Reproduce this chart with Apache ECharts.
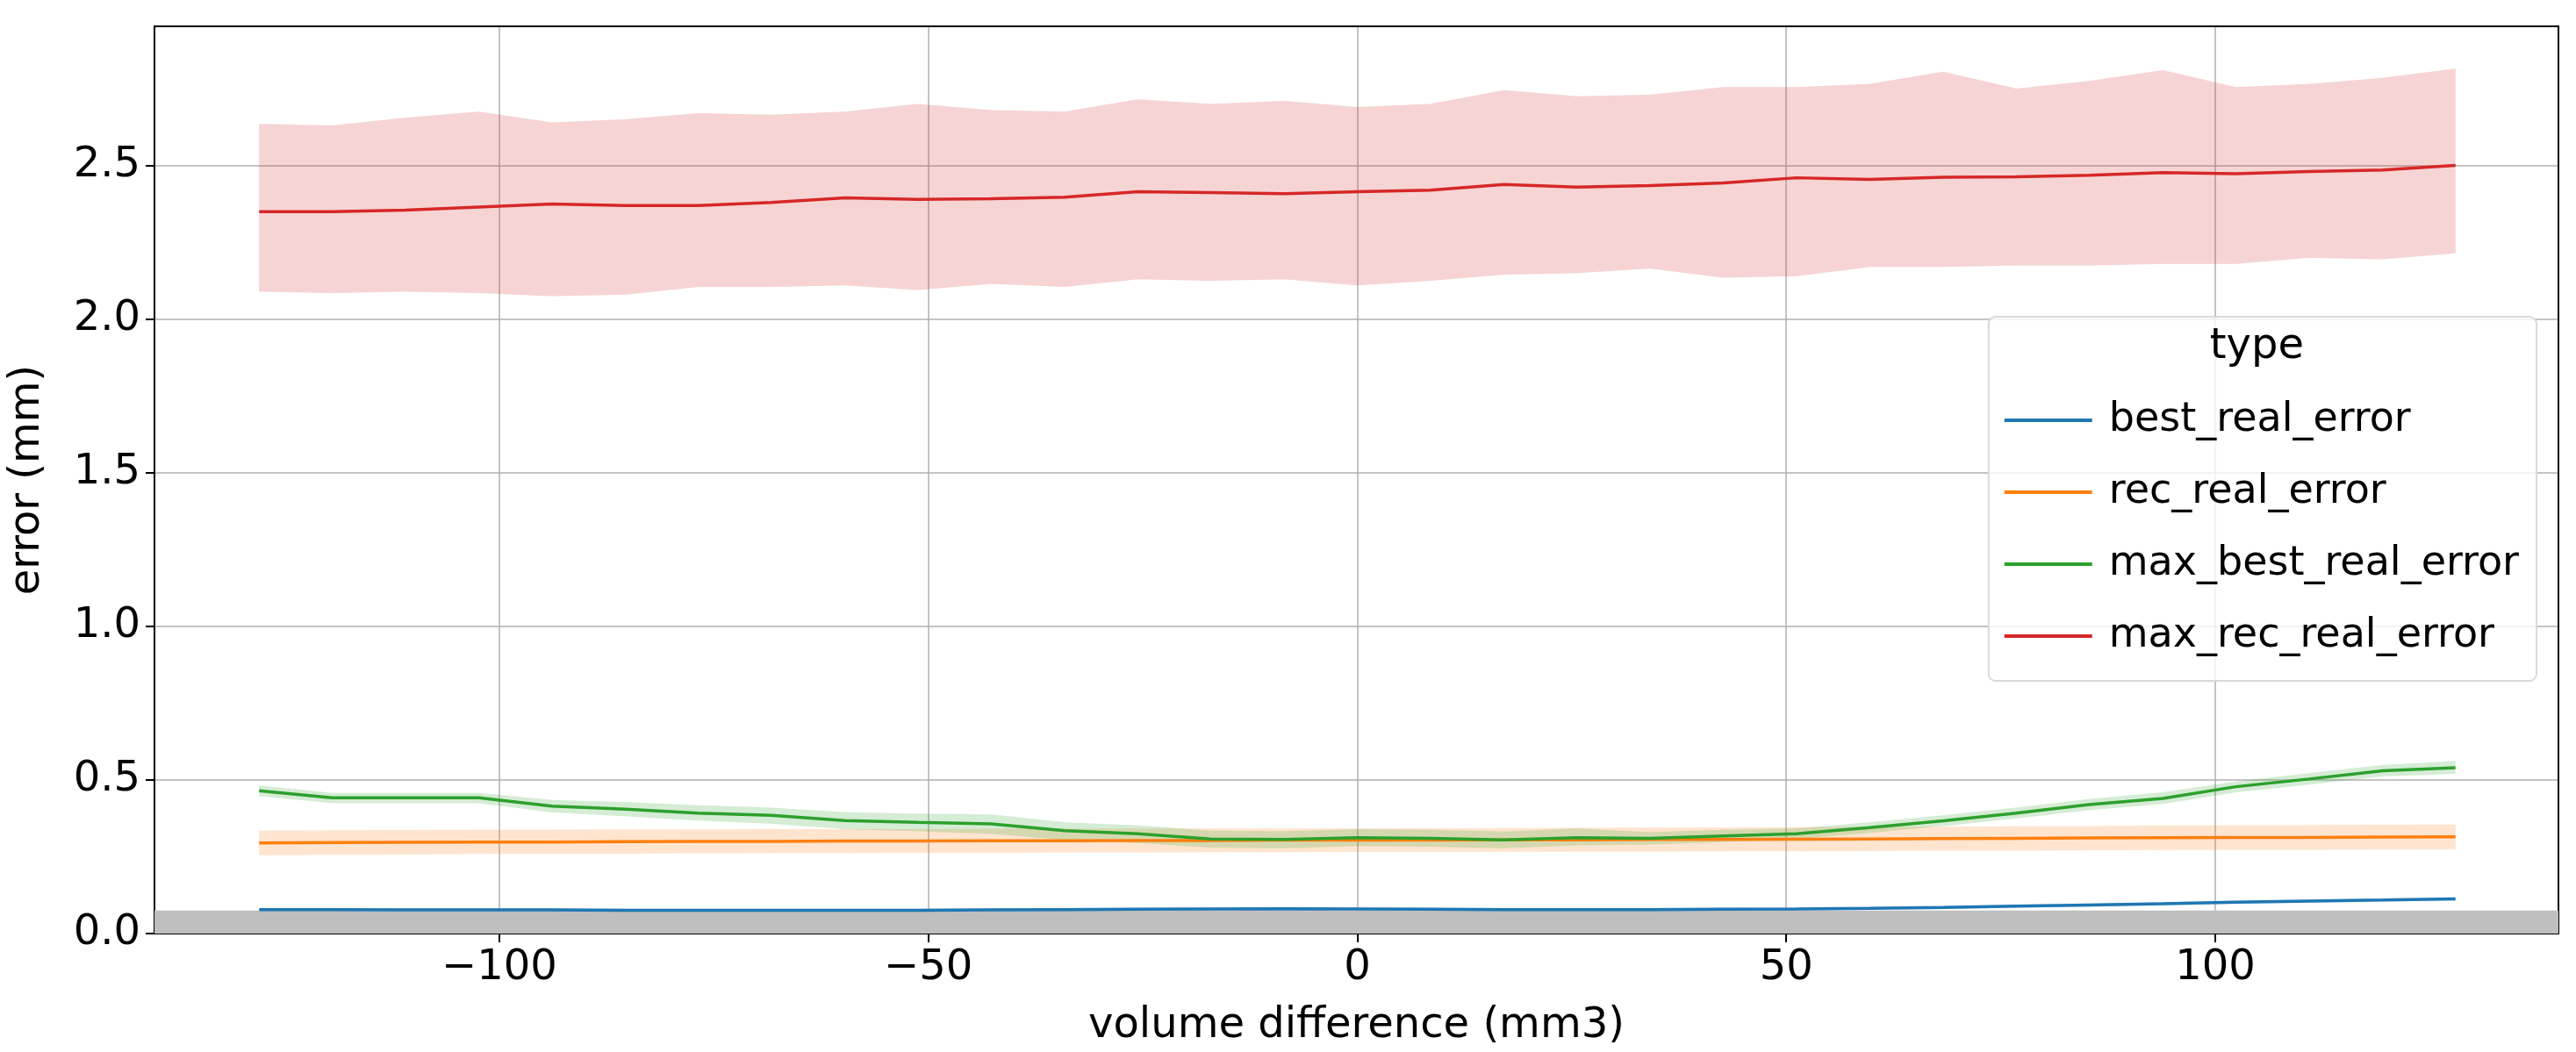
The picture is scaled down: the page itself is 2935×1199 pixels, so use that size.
<!DOCTYPE html>
<html>
<head>
<meta charset="utf-8">
<script src="https://cdn.jsdelivr.net/npm/echarts@6/dist/echarts.min.js"></script>
<style>html,body{margin:0;padding:0;background:#fff}#chart{width:2935px;height:1199px}</style>
</head>
<body>
<div id="chart"></div>
<script>
const volumeDiff = [-128, -119.5, -111, -102.4, -93.9, -85.3, -76.8, -68.3, -59.7, -51.2, -42.7, -34.1, -25.6, -17.1, -8.5, 0,
  8.5, 17.1, 25.6, 34.1, 42.7, 51.2, 59.7, 68.3, 76.8, 85.3, 93.9, 102.4, 110.9, 119.5, 128];

const bestMean = [0.078, 0.078, 0.077, 0.077, 0.077, 0.076, 0.076, 0.076, 0.076, 0.076, 0.077, 0.078, 0.079, 0.080, 0.081, 0.080,
  0.079, 0.078, 0.078, 0.078, 0.079, 0.080, 0.082, 0.085, 0.089, 0.093, 0.097, 0.102, 0.106, 0.109, 0.113];
const bestLow = [0.073, 0.073, 0.072, 0.072, 0.072, 0.071, 0.071, 0.071, 0.071, 0.071, 0.072, 0.073, 0.074, 0.075, 0.076, 0.075,
  0.074, 0.073, 0.073, 0.073, 0.074, 0.075, 0.077, 0.080, 0.084, 0.088, 0.092, 0.097, 0.101, 0.104, 0.108];
const bestHigh = [0.083, 0.083, 0.082, 0.082, 0.082, 0.081, 0.081, 0.081, 0.081, 0.081, 0.082, 0.083, 0.084, 0.085, 0.086, 0.085,
  0.084, 0.083, 0.083, 0.083, 0.084, 0.085, 0.087, 0.090, 0.094, 0.098, 0.102, 0.107, 0.111, 0.114, 0.118];

const recMean = [0.295, 0.296, 0.297, 0.298, 0.298, 0.299, 0.300, 0.300, 0.301, 0.301, 0.302, 0.302, 0.303, 0.303, 0.304, 0.304,
  0.304, 0.305, 0.305, 0.306, 0.306, 0.307, 0.308, 0.309, 0.310, 0.311, 0.312, 0.313, 0.313, 0.314, 0.315];
const recLow = [0.255, 0.257, 0.258, 0.259, 0.260, 0.260, 0.261, 0.262, 0.262, 0.263, 0.263, 0.264, 0.264, 0.265, 0.265, 0.266,
  0.266, 0.266, 0.267, 0.267, 0.268, 0.268, 0.269, 0.270, 0.270, 0.271, 0.272, 0.273, 0.273, 0.274, 0.275];
const recHigh = [0.335, 0.336, 0.337, 0.338, 0.338, 0.339, 0.339, 0.340, 0.340, 0.340, 0.341, 0.341, 0.341, 0.342, 0.342, 0.342,
  0.343, 0.343, 0.344, 0.345, 0.345, 0.346, 0.347, 0.348, 0.349, 0.350, 0.351, 0.352, 0.353, 0.354, 0.355];

const maxBestMean = [0.465, 0.442, 0.442, 0.442, 0.415, 0.405, 0.392, 0.385, 0.368, 0.362, 0.357, 0.335, 0.325, 0.308, 0.306, 0.312,
  0.310, 0.305, 0.312, 0.310, 0.318, 0.325, 0.345, 0.367, 0.392, 0.420, 0.440, 0.478, 0.503, 0.530, 0.540];
const maxBestLow = [0.448, 0.425, 0.425, 0.425, 0.395, 0.382, 0.368, 0.358, 0.340, 0.333, 0.325, 0.305, 0.295, 0.280, 0.278, 0.285,
  0.283, 0.278, 0.287, 0.290, 0.298, 0.308, 0.328, 0.350, 0.375, 0.402, 0.422, 0.460, 0.485, 0.512, 0.520];
const maxBestHigh = [0.482, 0.458, 0.458, 0.458, 0.435, 0.428, 0.418, 0.410, 0.395, 0.390, 0.388, 0.362, 0.352, 0.335, 0.333, 0.340,
  0.338, 0.332, 0.342, 0.330, 0.338, 0.342, 0.362, 0.385, 0.410, 0.438, 0.460, 0.495, 0.522, 0.548, 0.562];

const maxRecMean = [2.350, 2.350, 2.355, 2.365, 2.375, 2.370, 2.370, 2.380, 2.395, 2.390, 2.392, 2.397, 2.415, 2.412, 2.408, 2.415,
  2.420, 2.438, 2.430, 2.435, 2.443, 2.460, 2.455, 2.462, 2.463, 2.468, 2.477, 2.473, 2.480, 2.485, 2.500];
const maxRecLow = [2.090, 2.085, 2.090, 2.085, 2.075, 2.080, 2.105, 2.105, 2.110, 2.095, 2.115, 2.105, 2.130, 2.125, 2.130, 2.110,
  2.125, 2.145, 2.150, 2.165, 2.135, 2.140, 2.170, 2.170, 2.175, 2.175, 2.180, 2.180, 2.200, 2.195, 2.215];
const maxRecHigh = [2.635, 2.630, 2.655, 2.675, 2.640, 2.650, 2.670, 2.665, 2.675, 2.700, 2.680, 2.675, 2.715, 2.700, 2.710, 2.690,
  2.700, 2.745, 2.725, 2.730, 2.755, 2.755, 2.765, 2.805, 2.750, 2.775, 2.810, 2.755, 2.765, 2.785, 2.815];

const xTicks = [-100, -50, 0, 50, 100];
const yTicks = [0, 0.5, 1.0, 1.5, 2.0, 2.5];
const names = ["best_real_error", "rec_real_error", "max_best_real_error", "max_rec_real_error"];
const colors = ["#1f77b4", "#ff7f0e", "#2ca02c", "#d62728"];

const pairs = (ys) => volumeDiff.map((x, i) => [x, ys[i]]);

// confidence band as one polygon, points placed through the axis scales
const bandSeries = (low, high, color) => ({
  type: "custom", silent: true, z: 1,
  data: [[volumeDiff[0], low[0]]],
  renderItem: (params, api) => {
    const top = volumeDiff.map((x, i) => api.coord([x, high[i]]));
    const bottom = volumeDiff.map((x, i) => api.coord([x, low[i]])).reverse();
    return {
      type: "polygon",
      shape: { points: top.concat(bottom) },
      style: { fill: color, opacity: 0.2, stroke: color, lineWidth: 1, strokeOpacity: 0.1 },
    };
  },
});

const lineSeries = (name, ys, color) => ({
  name: name, type: "line", data: pairs(ys), symbol: "none", color: color,
  lineStyle: { width: 3.5, color: color }, z: 3,
});

const fontFamily = "DejaVu Sans";
const chart = echarts.init(document.getElementById("chart"));

chart.setOption({
  animation: false,
  textStyle: { fontFamily: fontFamily },
  grid: { left: 175, right: 20, top: 30, bottom: 127 },
  xAxis: [
    {
      type: "value", min: -140.2, max: 140,
      name: "volume difference (mm3)", nameLocation: "middle", nameGap: 82,
      nameTextStyle: { fontSize: 48, color: "#000" },
      axisLine: { show: true, onZero: false, lineStyle: { color: "#000", width: 2 } },
      axisTick: { show: true, customValues: xTicks, length: 10, lineStyle: { color: "#000", width: 2 } },
      axisLabel: { customValues: xTicks, fontSize: 48, color: "#000", margin: 16,
        formatter: v => String(v).replace("-", "\u2212") },
      splitLine: { show: true, lineStyle: { color: "#b0b0b0", width: 1.5 } },
    },
    {
      type: "value", position: "top", min: -140.2, max: 140,
      axisLine: { show: true, onZero: false, lineStyle: { color: "#000", width: 2 } },
      axisTick: { show: false }, axisLabel: { show: false }, splitLine: { show: false },
    },
  ],
  yAxis: [
    {
      type: "value", min: 0, max: 2.953,
      name: "error (mm)", nameLocation: "middle", nameGap: 120,
      nameTextStyle: { fontSize: 48, color: "#000" },
      axisLine: { show: true, onZero: false, lineStyle: { color: "#000", width: 2 } },
      axisTick: { show: true, customValues: yTicks, length: 10, lineStyle: { color: "#000", width: 2 } },
      axisLabel: { customValues: yTicks, fontSize: 48, color: "#000", margin: 16, formatter: v => v.toFixed(1) },
      splitLine: { show: true, lineStyle: { color: "#b0b0b0", width: 1.5 } },
    },
    {
      type: "value", position: "right", min: 0, max: 2.953,
      axisLine: { show: true, onZero: false, lineStyle: { color: "#000", width: 2 } },
      axisTick: { show: false }, axisLabel: { show: false }, splitLine: { show: false },
    },
  ],
  legend: {
    data: names.map((n, i) => ({ name: n, itemStyle: { color: colors[i] } })),
    orient: "vertical", right: 45, top: 361,
    padding: [95, 20, 28, 18],
    itemGap: 36, itemWidth: 100, itemHeight: 4,
    icon: "rect",
    textStyle: { fontSize: 46, color: "#000", padding: [0, 0, 0, 14] },
    backgroundColor: "rgba(255,255,255,0.8)",
    borderColor: "#d9d9d9", borderWidth: 2, borderRadius: 8,
  },
  graphic: [
    { type: "text", right: 310, top: 372, z: 100,
      style: { text: "type", fontSize: 48, fill: "#000", fontFamily: fontFamily } },
  ],
  series: [
    {
      type: "line", data: [], silent: true,
      markArea: { silent: true, itemStyle: { color: "#bfbfbf", opacity: 1 },
        data: [[{ yAxis: 0, xAxis: -140.2 }, { yAxis: 0.075, xAxis: 140 }]] },
      z: 0,
    },
    bandSeries(bestLow, bestHigh, colors[0]),
    bandSeries(recLow, recHigh, colors[1]),
    bandSeries(maxBestLow, maxBestHigh, colors[2]),
    bandSeries(maxRecLow, maxRecHigh, colors[3]),
    lineSeries(names[0], bestMean, colors[0]),
    lineSeries(names[1], recMean, colors[1]),
    lineSeries(names[2], maxBestMean, colors[2]),
    lineSeries(names[3], maxRecMean, colors[3]),
  ],
});
</script>
</body>
</html>
